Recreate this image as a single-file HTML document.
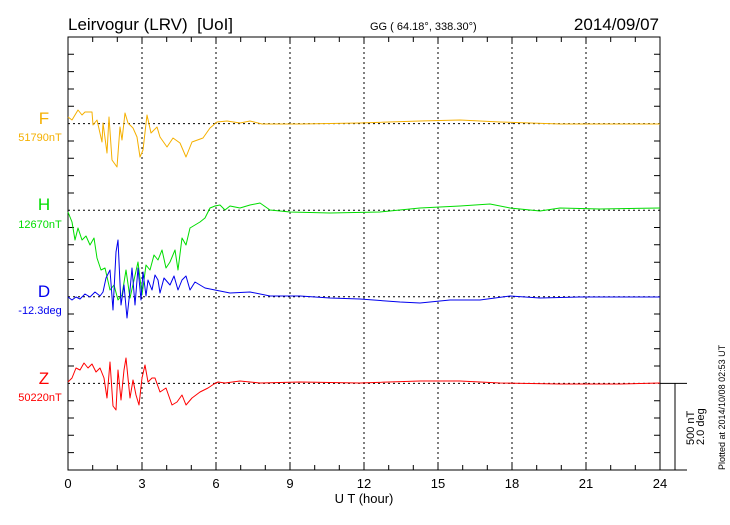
<!DOCTYPE html>
<html><head><meta charset="utf-8"><style>
body{margin:0;background:#fff;width:730px;height:520px;overflow:hidden}
svg{font-family:"Liberation Sans",sans-serif}
</style></head><body>
<svg width="730" height="520" viewBox="0 0 730 520">
<text x="68" y="30" font-size="17">Leirvogur (LRV)&#160;&#160;[UoI]</text>
<text x="370" y="30" font-size="11">GG ( 64.18°, 338.30°)</text>
<text x="659" y="30" font-size="17" text-anchor="end">2014/09/07</text>
<rect x="68" y="37" width="592" height="433" fill="none" stroke="#000" stroke-width="1"/>
<g stroke="#000" stroke-dasharray="2,3" stroke-width="1">
<line x1="142" y1="37" x2="142" y2="470"/><line x1="216" y1="37" x2="216" y2="470"/>
<line x1="290" y1="37" x2="290" y2="470"/><line x1="364" y1="37" x2="364" y2="470"/>
<line x1="438" y1="37" x2="438" y2="470"/><line x1="512" y1="37" x2="512" y2="470"/>
<line x1="586" y1="37" x2="586" y2="470"/>
<line x1="68" y1="123.6" x2="660" y2="123.6"/><line x1="68" y1="210.2" x2="660" y2="210.2"/>
<line x1="68" y1="296.8" x2="660" y2="296.8"/><line x1="68" y1="383.4" x2="660" y2="383.4"/>
</g>
<g stroke="#000" stroke-width="1" id="t">
<path d="M92.7 37v5M117.3 37v5M142 37v7M166.7 37v5M191.3 37v5M216 37v7M240.7 37v5M265.3 37v5M290 37v7M314.7 37v5M339.3 37v5M364 37v7M388.7 37v5M413.3 37v5M438 37v7M462.7 37v5M487.3 37v5M512 37v7M536.7 37v5M561.3 37v5M586 37v7M610.7 37v5M635.3 37v5"/>
<path d="M92.7 470v-5M117.3 470v-5M142 470v-7M166.7 470v-5M191.3 470v-5M216 470v-7M240.7 470v-5M265.3 470v-5M290 470v-7M314.7 470v-5M339.3 470v-5M364 470v-7M388.7 470v-5M413.3 470v-5M438 470v-7M462.7 470v-5M487.3 470v-5M512 470v-7M536.7 470v-5M561.3 470v-5M586 470v-7M610.7 470v-5M635.3 470v-5"/>
<path d="M68 54.3h6M68 71.6h6M68 89h6M68 106.3h6M68 141h6M68 158.3h6M68 175.6h6M68 193h6M68 227.5h6M68 244.8h6M68 262.2h6M68 279.5h6M68 314h6M68 331.4h6M68 348.7h6M68 366h6M68 400.7h6M68 418h6M68 435.3h6M68 452.6h6"/>
<path d="M660 54.3h-6M660 71.6h-6M660 89h-6M660 106.3h-6M660 141h-6M660 158.3h-6M660 175.6h-6M660 193h-6M660 227.5h-6M660 244.8h-6M660 262.2h-6M660 279.5h-6M660 314h-6M660 331.4h-6M660 348.7h-6M660 366h-6M660 400.7h-6M660 418h-6M660 435.3h-6M660 452.6h-6"/>
<path d="M660 383.4h27M675 383.4v86.6M660 470h27"/>
</g>
<g font-size="13" text-anchor="middle">
<text x="68" y="488">0</text><text x="142" y="488">3</text><text x="216" y="488">6</text><text x="290" y="488">9</text><text x="364" y="488">12</text><text x="438" y="488">15</text><text x="512" y="488">18</text><text x="586" y="488">21</text><text x="660" y="488">24</text>
<text x="364" y="503">U T (hour)</text>
</g>
<text transform="translate(694,445) rotate(-90)" font-size="11">500 nT</text>
<text transform="translate(704,445) rotate(-90)" font-size="11">2.0 deg</text>
<text transform="translate(725,470) rotate(-90)" font-size="9">Plotted at 2014/10/08 02:53 UT</text>
<g text-anchor="middle">
<text x="44" y="124" font-size="17" fill="#f5b000">F</text><text x="40" y="141" font-size="11" fill="#f5b000">51790nT</text>
<text x="44" y="210" font-size="17" fill="#00dd00">H</text><text x="40" y="228" font-size="11" fill="#00dd00">12670nT</text>
<text x="44" y="297" font-size="17" fill="#0000ee">D</text><text x="40" y="314" font-size="11" fill="#0000ee">-12.3deg</text>
<text x="44" y="384" font-size="17" fill="#ff0000">Z</text><text x="40" y="401" font-size="11" fill="#ff0000">50220nT</text>
</g>
<g fill="none" stroke-width="1" stroke-linejoin="round">
<polyline stroke="#f5b000" points="68,117 72,120 78,110 82,115 85,112 92,112 93,125 97,120 102,142 103,123 107,153 109,117 112,160 117,167 120,127 122,140 125,113 128,123 133,128 137,137 140,157 143,150 147,115 151,133 157,127 160,137 167,147 173,138 180,143 186,157 192,142 203,138 210,128 217,122 227,121 240,123 250,121 262,124 300,124 360,123 420,121 460,120 500,122 560,124 620,124 660,124"/>
<polyline stroke="#00dd00" points="68,212 72,222 75,240 78,228 82,240 86,236 90,245 94,238 97,258 101,270 105,268 110,290 114,285 118,300 122,295 126,270 130,298 134,280 138,262 142,295 146,265 150,270 154,255 158,260 162,250 166,268 170,262 175,250 178,270 182,238 186,245 190,228 195,225 200,222 205,218 210,208 215,206 220,205 225,210 230,206 240,208 250,205 260,203 270,210 290,212 330,213 380,212 420,208 460,206 490,204 510,208 540,211 560,208 600,209 660,208"/>
<polyline stroke="#0000ee" points="68,297 72,300 76,297 80,299 85,294 90,297 95,292 100,296 103,292 106,278 110,270 113,310 116,252 118,240 121,305 124,285 127,318 130,290 132,268 135,305 138,268 141,300 143,272 146,296 148,280 152,290 155,275 158,280 160,293 164,278 170,285 174,276 178,290 182,280 186,276 190,290 195,282 205,288 215,290 230,293 250,292 270,296 300,296 330,298 360,299 400,302 420,303 450,300 480,300 510,296 540,298 580,297 620,297 660,297"/>
<polyline stroke="#ff0000" points="68,382 72,378 76,368 80,370 84,363 88,368 92,364 96,372 100,368 104,378 107,398 110,362 113,406 116,410 118,370 121,400 124,370 126,358 130,398 133,380 136,395 139,405 142,378 145,365 148,382 152,378 155,378 160,392 166,388 172,405 177,402 182,395 186,405 192,398 200,392 208,388 214,384 218,382 225,383 240,381 260,383 300,382 360,383 420,381 460,381 500,383 560,384 620,384 660,383"/>
</g>
</svg>
</body></html>
